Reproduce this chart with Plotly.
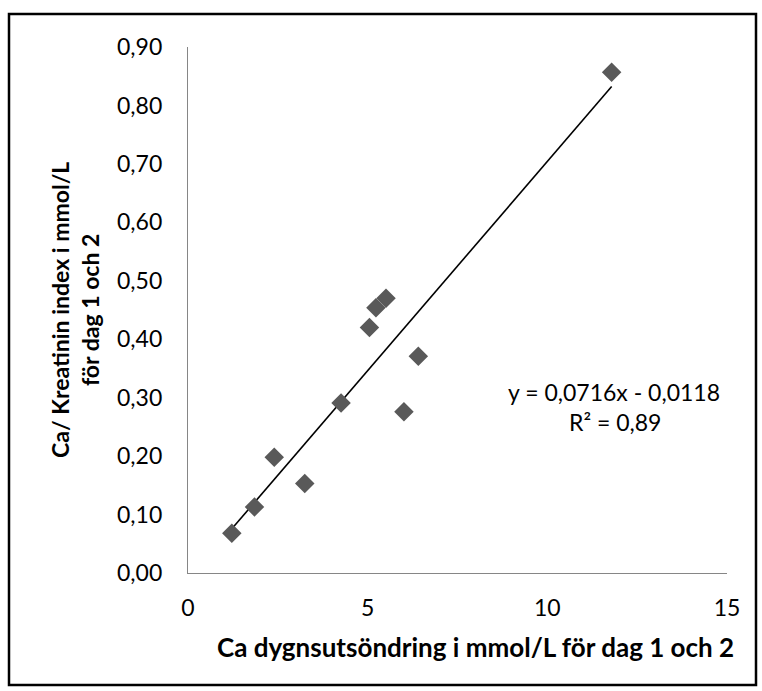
import plotly.graph_objects as go

# Data
x_vals = [1.22, 1.85, 2.40, 3.25, 4.26, 5.05, 5.23, 5.51, 6.01, 6.41, 11.79]
y_vals = [0.068, 0.113, 0.198, 0.153, 0.291, 0.420, 0.454, 0.470, 0.276, 0.371, 0.857]
slope = 0.0716
intercept = -0.0118
r_squared = 0.89

x_ticks = [0, 5, 10, 15]
x_ticklabels = ["0", "5", "10", "15"]
y_ticks = [0.0, 0.1, 0.2, 0.3, 0.4, 0.5, 0.6, 0.7, 0.8, 0.9]
y_ticklabels = ["0,00", "0,10", "0,20", "0,30", "0,40", "0,50", "0,60", "0,70", "0,80", "0,90"]

x_title = "Ca dygnsutsöndring i mmol/L för dag 1 och 2"
y_title = "Ca/ Kreatinin index i mmol/L<br>för dag 1 och 2"
eq_text = "y = 0,0716x - 0,0118"
r2_text = "R² = 0,89"

W, H = 762, 691
L, R, T, B = 188, 35, 47, 118
PW, PH = W - L - R, H - T - B


def px(xp):
    return (xp - L) / PW


def py(yp):
    return (H - B - yp) / PH


FONT = "Lato"
GRAY = "#595959"

trend_x = [min(x_vals), max(x_vals)]
trend_y = [slope * v + intercept for v in trend_x]

fig = go.Figure()
fig.add_trace(go.Scatter(x=trend_x, y=trend_y, mode="lines",
                         line=dict(color="black", width=1.6), hoverinfo="skip"))
fig.add_trace(go.Scatter(x=x_vals, y=y_vals, mode="markers",
                         marker=dict(symbol="diamond", size=15, color=GRAY,
                                     line=dict(width=0))))

fig.update_layout(
    width=W, height=H, autosize=False,
    margin=dict(l=L, r=R, t=T, b=B, pad=0),
    paper_bgcolor="white", plot_bgcolor="white",
    showlegend=False,
    font=dict(family=FONT, size=23, color="black"),
    xaxis=dict(range=[0, 15], tickvals=x_ticks, ticktext=x_ticklabels,
               showgrid=False, zeroline=False, showline=True,
               linecolor="#868686", linewidth=1.3, ticks="",
               ticklabelstandoff=14, tickfont=dict(family=FONT, size=23)),
    yaxis=dict(range=[0, 0.9], tickvals=y_ticks, ticktext=y_ticklabels,
               showgrid=False, zeroline=False, showline=True,
               linecolor="#868686", linewidth=1.3, ticks="",
               ticklabelstandoff=20, tickfont=dict(family=FONT, size=23)),
)

annotations = [
    dict(text="<b>" + x_title + "</b>", x=px(475), y=py(647), xref="paper", yref="paper",
         showarrow=False, xanchor="center", yanchor="middle",
         font=dict(family=FONT, size=26)),
    dict(text="<b>" + y_title + "</b>", x=px(75), y=py(310), xref="paper", yref="paper",
         showarrow=False, xanchor="center", yanchor="middle", textangle=-90,
         font=dict(family=FONT, size=23)),
    dict(text=eq_text, x=px(614), y=py(392), xref="paper", yref="paper",
         showarrow=False, xanchor="center", yanchor="middle",
         font=dict(family=FONT, size=23)),
    dict(text=r2_text, x=px(615), y=py(422), xref="paper", yref="paper",
         showarrow=False, xanchor="center", yanchor="middle",
         font=dict(family=FONT, size=23)),
]
fig.update_layout(annotations=annotations)

fig.add_shape(type="rect", xref="paper", yref="paper",
              x0=px(9), x1=px(756), y0=py(14), y1=py(685),
              line=dict(color="black", width=2.5), fillcolor="rgba(0,0,0,0)")

fig.write_html("out.html")
